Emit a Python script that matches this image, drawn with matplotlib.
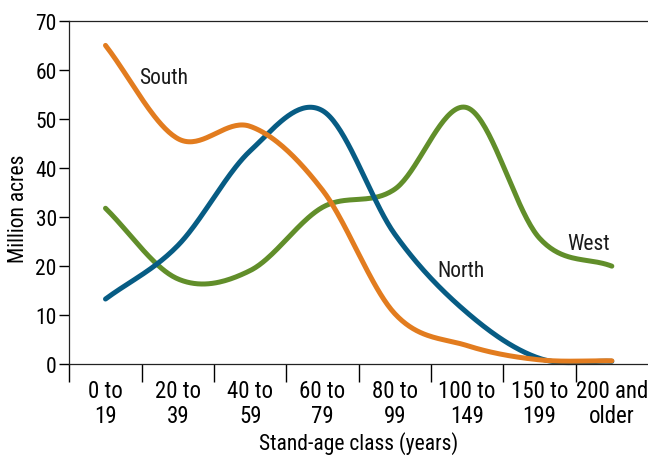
import numpy as np
import matplotlib
matplotlib.use("Agg")
import matplotlib.pyplot as plt
from matplotlib import font_manager as fm

# stand-age classes (years)
categories = ["0 to\n19", "20 to\n39", "40 to\n59", "60 to\n79", "80 to\n99",
              "100 to\n149", "150 to\n199", "200 and\nolder"]

# million acres
north = [13.3, 24.2, 43.5, 51.7, 26.5, 10.5, 1.2, 0.6]
south = [65.0, 46.0, 48.5, 35.5, 10.3, 3.8, 0.9, 0.7]
west = [31.8, 17.4, 19.1, 32.0, 35.7, 52.3, 25.7, 20.0]

COLORS = {"North": "#075c84", "South": "#e27c1f", "West": "#618e2a"}


def pick_condensed():
    """Find a narrow sans font if one is installed."""
    prefs = ['Liberation Sans Narrow', 'Roboto Condensed', 'Open Sans Condensed',
             'Noto Sans Condensed', 'DejaVu Sans', 'Noto Sans', 'Open Sans']
    found = {}
    for f in fm.fontManager.ttflist:
        narrow = ('Narrow' in f.name or 'Condensed' in f.name
                  or f.stretch in ('condensed', 'semi-condensed', 400, 300))
        if narrow and f.style == 'normal' and f.weight in (400, 'normal', 'regular'):
            found.setdefault(f.name, f.stretch)
    for p in prefs:
        if p in found:
            return p, found[p]
    for name, st in found.items():
        if 'Mono' not in name and 'Serif' not in name:
            return name, st
    return 'Liberation Sans', 'normal'


fam, stretch = pick_condensed()
plt.rcParams['font.family'] = [fam, 'DejaVu Sans']
plt.rcParams['font.stretch'] = stretch


def smooth(ys, n=40):
    """Catmull-Rom spline through evenly spaced points."""
    ys = np.asarray(ys, dtype=float)
    ext = np.concatenate([[2 * ys[0] - ys[1]], ys, [2 * ys[-1] - ys[-2]]])
    xs_out, ys_out = [], []
    t = np.linspace(0, 1, n, endpoint=False)
    for i in range(len(ys) - 1):
        p0, p1, p2, p3 = ext[i], ext[i + 1], ext[i + 2], ext[i + 3]
        m1 = (p2 - p0) / 2
        m2 = (p3 - p1) / 2
        h00 = 2 * t**3 - 3 * t**2 + 1
        h10 = t**3 - 2 * t**2 + t
        h01 = -2 * t**3 + 3 * t**2
        h11 = t**3 - t**2
        xs_out.append(i + t)
        ys_out.append(h00 * p1 + h10 * m1 + h01 * p2 + h11 * m2)
    xs_out.append([len(ys) - 1])
    ys_out.append([ys[-1]])
    return np.concatenate(xs_out), np.concatenate(ys_out)


fig = plt.figure(figsize=(6.48, 4.56), dpi=100)
ax = fig.add_axes([0.107, 0.199, 0.893, 0.753])

for name, vals in [("West", west), ("North", north), ("South", south)]:
    sx, sy = smooth(vals)
    ax.plot(sx, sy, color=COLORS[name], lw=3.6, solid_capstyle='round',
            clip_on=False)

ax.text(0.46, 57.3, "South", fontsize=15.5, color="#1a1a1a")
ax.text(4.585, 17.9, "North", fontsize=15.5, color="#1a1a1a")
ax.text(6.38, 23.4, "West", fontsize=15.5, color="#1a1a1a")

ax.set_xlim(-0.5, 7.5)
ax.set_ylim(0, 70)
ax.set_yticks(range(0, 71, 10))
ax.set_xticks(np.arange(-0.5, 7.5, 1))
ax.set_xticklabels([])
ax.set_xticks(np.arange(8), minor=True)
ax.set_xticklabels(categories, minor=True, fontsize=16.5, linespacing=1.1)
ax.tick_params(axis='x', which='major', length=13, width=1, direction='out')
ax.tick_params(axis='x', which='minor', length=0, pad=10.5)
ax.tick_params(axis='y', length=7, width=1, direction='out', labelsize=15.5, pad=2)

for side in ['left', 'bottom', 'top']:
    ax.spines[side].set_linewidth(0.9)
    ax.spines[side].set_color("#222222")
ax.spines['right'].set_visible(False)

ax.set_xlabel("Stand-age class (years)", fontsize=15.5, labelpad=3)
ax.set_ylabel("Million acres", fontsize=15.5)
ax.yaxis.set_label_coords(-0.07, 0.455)

fig.savefig("out.png", dpi=100)
